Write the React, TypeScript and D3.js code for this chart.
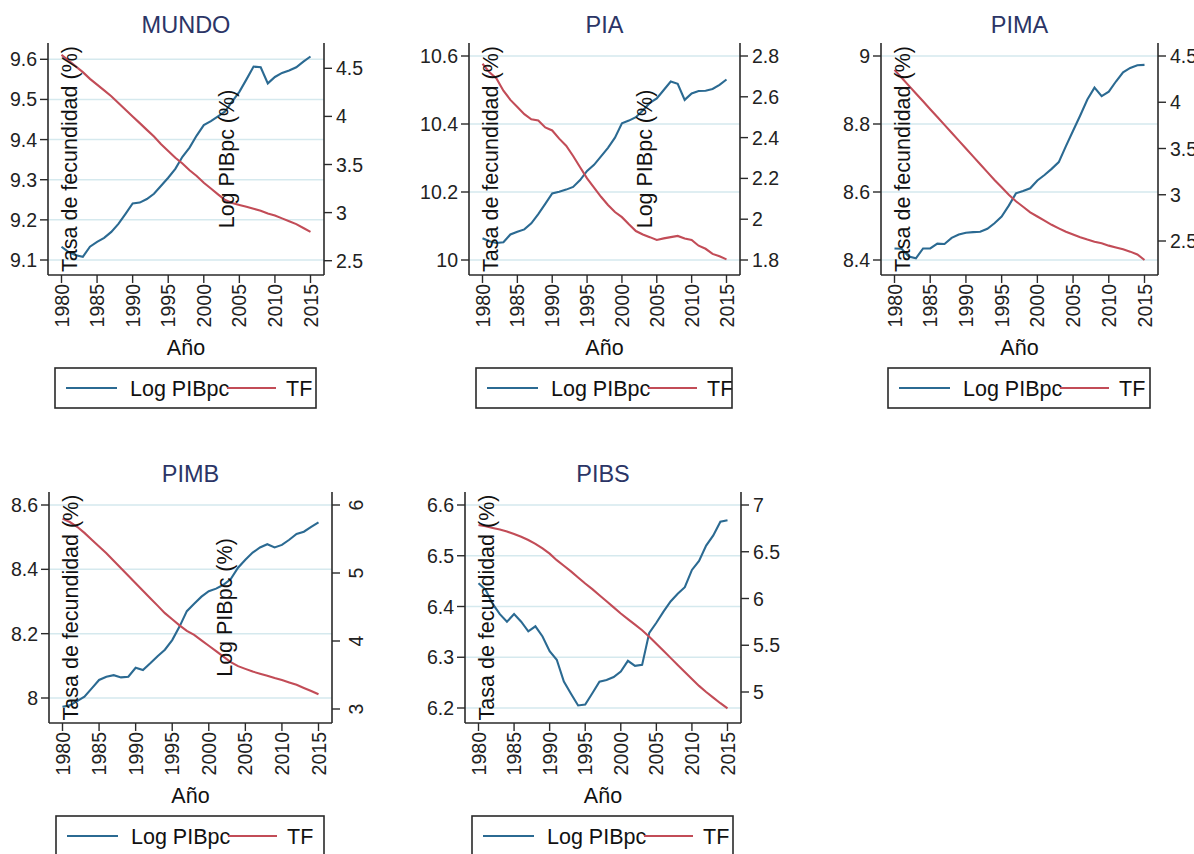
import React from "react";
import * as d3 from "d3";

const years = d3.range(1980, 2016);

// Log PIB per capita (left axis) and fertility rate TF (right axis)
const mundoLogPib = [9.133, 9.12, 9.112, 9.108, 9.133, 9.145, 9.155, 9.17, 9.19, 9.215, 9.241, 9.243, 9.252, 9.265, 9.285, 9.305, 9.327, 9.357, 9.38, 9.41, 9.436, 9.446, 9.458, 9.47, 9.495, 9.519, 9.55, 9.582, 9.58, 9.54, 9.556, 9.566, 9.572, 9.58, 9.594, 9.607];
const mundoTF = [4.64, 4.58, 4.52, 4.46, 4.39, 4.33, 4.27, 4.21, 4.14, 4.07, 4.0, 3.93, 3.86, 3.79, 3.71, 3.64, 3.57, 3.51, 3.44, 3.38, 3.31, 3.25, 3.19, 3.13, 3.1, 3.08, 3.06, 3.04, 3.02, 2.99, 2.97, 2.94, 2.91, 2.88, 2.84, 2.8];

const piaLogPib = [10.064, 10.055, 10.05, 10.052, 10.075, 10.083, 10.09, 10.108, 10.135, 10.165, 10.196, 10.201, 10.207, 10.215, 10.235, 10.262, 10.28, 10.305, 10.33, 10.36, 10.402, 10.41, 10.42, 10.44, 10.462, 10.475, 10.5, 10.525, 10.518, 10.471, 10.49, 10.497, 10.498, 10.503, 10.515, 10.531];
const piaTF = [2.762, 2.72, 2.69, 2.63, 2.585, 2.55, 2.515, 2.49, 2.484, 2.45, 2.435, 2.395, 2.36, 2.31, 2.255, 2.2, 2.155, 2.11, 2.07, 2.035, 2.01, 1.975, 1.942, 1.925, 1.912, 1.898, 1.906, 1.912, 1.918, 1.905, 1.898, 1.87, 1.855, 1.83, 1.818, 1.803];

const pimaLogPib = [8.434, 8.433, 8.41, 8.405, 8.434, 8.434, 8.448, 8.447, 8.465, 8.475, 8.48, 8.482, 8.483, 8.492, 8.508, 8.528, 8.56, 8.596, 8.603, 8.611, 8.634, 8.65, 8.668, 8.688, 8.735, 8.78, 8.825, 8.872, 8.907, 8.882, 8.895, 8.925, 8.952, 8.965, 8.973, 8.974];
const pimaTF = [4.35, 4.265, 4.18, 4.095, 4.01, 3.925, 3.84, 3.755, 3.67, 3.585, 3.5, 3.415, 3.33, 3.245, 3.16, 3.08, 3.0, 2.93, 2.87, 2.81, 2.765, 2.72, 2.675, 2.637, 2.6, 2.57, 2.54, 2.515, 2.493, 2.475, 2.45, 2.43, 2.41, 2.385, 2.355, 2.295];

const pimbLogPib = [7.973, 7.977, 7.99, 8.004, 8.03, 8.056, 8.066, 8.071, 8.064, 8.066, 8.094, 8.087, 8.108, 8.13, 8.15, 8.18, 8.222, 8.27, 8.293, 8.315, 8.332, 8.34, 8.352, 8.37, 8.405, 8.43, 8.452, 8.468, 8.478, 8.468, 8.476, 8.492, 8.51, 8.517, 8.532, 8.546];
const pimbTF = [5.8, 5.75, 5.68, 5.59, 5.49, 5.39, 5.29, 5.18, 5.07, 4.96, 4.85, 4.74, 4.63, 4.52, 4.41, 4.32, 4.23, 4.15, 4.09, 4.01, 3.93, 3.85, 3.77, 3.69, 3.63, 3.59, 3.55, 3.52, 3.49, 3.455, 3.425, 3.39, 3.355, 3.31, 3.265, 3.216];

const pibsLogPib = [6.446, 6.433, 6.405, 6.385, 6.37, 6.385, 6.37, 6.351, 6.361, 6.341, 6.312, 6.295, 6.252, 6.228, 6.205, 6.207, 6.229, 6.252, 6.255, 6.261, 6.272, 6.293, 6.283, 6.285, 6.348, 6.368, 6.39, 6.41, 6.425, 6.438, 6.472, 6.49, 6.52, 6.54, 6.567, 6.57];
const pibsTF = [6.786, 6.772, 6.755, 6.738, 6.717, 6.69, 6.66, 6.626, 6.585, 6.535, 6.48, 6.41, 6.35, 6.29, 6.225, 6.16, 6.1, 6.035, 5.97, 5.905, 5.84, 5.78, 5.72, 5.66, 5.59, 5.515, 5.44, 5.365, 5.29, 5.215, 5.14, 5.065, 5.0, 4.94, 4.88, 4.825];

const xTicks = [1980, 1985, 1990, 1995, 2000, 2005, 2010, 2015];
const mundoLeftTicks = [9.1, 9.2, 9.3, 9.4, 9.5, 9.6];
const mundoRightTicks = [2.5, 3, 3.5, 4, 4.5];
const piaLeftTicks = [10, 10.2, 10.4, 10.6];
const piaRightTicks = [1.8, 2, 2.2, 2.4, 2.6, 2.8];
const pimaLeftTicks = [8.4, 8.6, 8.8, 9];
const pimaRightTicks = [2.5, 3, 3.5, 4, 4.5];
const pimbLeftTicks = [8, 8.2, 8.4, 8.6];
const pimbRightTicks = [3, 4, 5, 6];
const pibsLeftTicks = [6.2, 6.3, 6.4, 6.5, 6.6];
const pibsRightTicks = [5, 5.5, 6, 6.5, 7];

const FONT = "'Liberation Sans', Arial, Helvetica, sans-serif";
const BLUE = "#2b6a92";
const RED = "#c24c57";
const GRID = "#d5e9ee";
const AXIS = "#2a2a2a";
const TITLE = "#2b3566";
const TICK_FS = 19.5;

const fmt = (v) => String(+v.toFixed(2));

// panel frame: left/right axis x, top/bottom of the plot, and where
// the lowest / highest tick of each y axis sits
const panels = [
  { title: "MUNDO", x0: 48, x1: 324, top: 43, bottom: 275, lPx: [260, 59.3], rPx: [260.7, 68.3], logX: 227, rotRight: false,
    blue: mundoLogPib, red: mundoTF, lt: mundoLeftTicks, rt: mundoRightTicks },
  { title: "PIA", x0: 469, x1: 740, top: 43, bottom: 275, lPx: [260, 56], rPx: [260, 56], logX: 645, rotRight: false,
    blue: piaLogPib, red: piaTF, lt: piaLeftTicks, rt: piaRightTicks },
  { title: "PIMA", x0: 881, x1: 1158, top: 43, bottom: 275, lPx: [260, 56], rPx: [241, 56], logX: null, rotRight: false,
    blue: pimaLogPib, red: pimaTF, lt: pimaLeftTicks, rt: pimaRightTicks },
  { title: "PIMB", x0: 49, x1: 332, top: 492, bottom: 723, lPx: [698, 505], rPx: [709, 505], logX: 225, rotRight: true,
    blue: pimbLogPib, red: pimbTF, lt: pimbLeftTicks, rt: pimbRightTicks },
  { title: "PIBS", x0: 465, x1: 741, top: 492, bottom: 723, lPx: [708, 505], rPx: [692, 505], logX: null, rotRight: false,
    blue: pibsLogPib, red: pibsTF, lt: pibsLeftTicks, rt: pibsRightTicks },
];

const Panel = ({ p, idx }) => {
  const x = d3.scaleLinear().domain([1980, 2015]).range([p.x0 + 13.5, p.x1 - 13.5]);
  const yL = d3.scaleLinear().domain([p.lt[0], p.lt[p.lt.length - 1]]).range(p.lPx);
  const yR = d3.scaleLinear().domain([p.rt[0], p.rt[p.rt.length - 1]]).range(p.rPx);
  const lineL = d3.line().x((d, i) => x(years[i])).y(d => yL(d));
  const lineR = d3.line().x((d, i) => x(years[i])).y(d => yR(d));
  const cx = (p.x0 + p.x1) / 2;
  const cy = (p.top + p.bottom) / 2;
  const lgX = p.x0 + 7;
  const lgY = p.bottom + 93;
  const lgW = p.x1 - 8 - lgX;
  const clipId = "lg" + idx;

  return (
    <g>
      <text x={cx} y={p.top - 10} textAnchor="middle" fontSize={23.5} fill={TITLE}>{p.title}</text>

      {p.lt.map(t => (
        <line key={"g" + t} x1={p.x0} x2={p.x1} y1={yL(t)} y2={yL(t)} stroke={GRID} strokeWidth={1.5} />
      ))}

      <path d={lineL(p.blue)} fill="none" stroke={BLUE} strokeWidth={2.1} />
      <path d={lineR(p.red)} fill="none" stroke={RED} strokeWidth={2.1} />

      {/* axes */}
      <line x1={p.x0} x2={p.x0} y1={p.top} y2={p.bottom} stroke={AXIS} strokeWidth={1.6} />
      <line x1={p.x1} x2={p.x1} y1={p.top} y2={p.bottom} stroke={AXIS} strokeWidth={1.6} />
      <line x1={p.x0} x2={p.x1} y1={p.bottom} y2={p.bottom} stroke={AXIS} strokeWidth={1.6} />

      {p.lt.map(t => (
        <g key={"l" + t}>
          <line x1={p.x0 - 8} x2={p.x0} y1={yL(t)} y2={yL(t)} stroke={AXIS} strokeWidth={1.4} />
          <text x={p.x0 - 11} y={yL(t)} textAnchor="end" dominantBaseline="central" fontSize={TICK_FS} fill="#222">{fmt(t)}</text>
        </g>
      ))}
      {p.rt.map(t => (
        <g key={"r" + t}>
          <line x1={p.x1} x2={p.x1 + 8} y1={yR(t)} y2={yR(t)} stroke={AXIS} strokeWidth={1.4} />
          {p.rotRight ? (
            <text transform={`translate(${p.x1 + 24},${yR(t)}) rotate(-90)`} textAnchor="middle" dominantBaseline="central" fontSize={TICK_FS} fill="#222">{fmt(t)}</text>
          ) : (
            <text x={p.x1 + 12} y={yR(t)} textAnchor="start" dominantBaseline="central" fontSize={TICK_FS} fill="#222">{fmt(t)}</text>
          )}
        </g>
      ))}
      {xTicks.map(t => (
        <g key={"x" + t}>
          <line x1={x(t)} x2={x(t)} y1={p.bottom} y2={p.bottom + 8} stroke={AXIS} strokeWidth={1.4} />
          <text transform={`translate(${x(t)},${p.bottom + 9}) rotate(-90)`} textAnchor="end" dominantBaseline="central" fontSize={TICK_FS} fill="#222">{t}</text>
        </g>
      ))}

      <text transform={`translate(${p.x0 + 22},${cy}) rotate(-90)`} textAnchor="middle" dominantBaseline="central" fontSize={21.5} fill="#111">Tasa de fecundidad (%)</text>
      {p.logX != null && (
        <text transform={`translate(${p.logX},${cy}) rotate(-90)`} textAnchor="middle" dominantBaseline="central" fontSize={21.5} fill="#111">Log PIBpc (%)</text>
      )}

      <text x={cx} y={p.bottom + 80} textAnchor="middle" fontSize={21.5} fill="#111">Año</text>

      {/* legend */}
      <clipPath id={clipId}>
        <rect x={lgX} y={lgY} width={lgW} height={40} />
      </clipPath>
      <g clipPath={`url(#${clipId})`}>
        <line x1={lgX + 11} x2={lgX + 62} y1={lgY + 20} y2={lgY + 20} stroke={BLUE} strokeWidth={2} />
        <text x={lgX + 75} y={lgY + 28} fontSize={21.5} fill="#111">Log PIBpc</text>
        <line x1={lgX + 172} x2={lgX + 221} y1={lgY + 20} y2={lgY + 20} stroke={RED} strokeWidth={2} />
        <text x={lgX + 231} y={lgY + 28} fontSize={21.5} fill="#111">TF</text>
      </g>
      <rect x={lgX} y={lgY} width={lgW} height={40} fill="none" stroke={AXIS} strokeWidth={1.6} />
    </g>
  );
};

export default function App() {
  return (
    <svg width={1194} height={854} style={{ position: "absolute", left: 0, top: 0, background: "#fff" }} fontFamily={FONT}>
      <rect width={1194} height={854} fill="#fff" />
      {panels.map((p, i) => <Panel key={p.title} p={p} idx={i} />)}
    </svg>
  );
}
